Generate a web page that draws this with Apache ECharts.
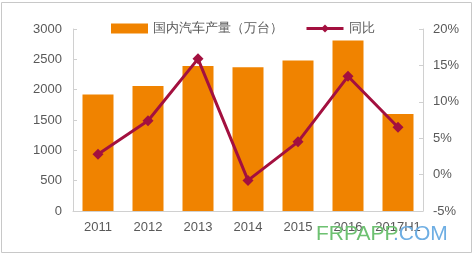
<!DOCTYPE html>
<html><head><meta charset="utf-8">
<script src="https://cdn.jsdelivr.net/npm/echarts@6/dist/echarts.min.js"></script>
<style>html,body{margin:0;padding:0;background:#fff}#c{width:475px;height:257px}</style>
</head><body><div id="c"></div>
<script>
var categories = ['2011','2012','2013','2014','2015','2016','2017H1'];
var production = [1920, 2060, 2390, 2370, 2480, 2810, 1600];
var yoy = [2.8, 7.4, 15.9, -0.8, 4.5, 13.5, 6.5];
var leftTicks = {min: 0, max: 3000, interval: 500};
var rightTicks = {min: -5, max: 20, interval: 5};

var chart = echarts.init(document.getElementById('c'));
var txt = {color: '#595959', fontSize: 13, fontFamily: 'Liberation Sans, Arial, sans-serif'};
chart.setOption({
  animation: false,
  graphic: [
    {type: 'rect', shape: {x: 1.5, y: 2.5, width: 470, height: 250}, style: {fill: 'none', stroke: '#c8c8c8', lineWidth: 1}, z: -1},
    {type: 'text', left: 316, top: 224, z: 100, style: {text: 'FRPAPP', fill: '#6dc171', font: '21px Liberation Sans, Arial, sans-serif'}},
    {type: 'text', left: 393, top: 224, z: 100, style: {text: '.COM', fill: '#6eaee3', font: '21px Liberation Sans, Arial, sans-serif'}}
  ],
  legend: {
    left: 106, top: 17, itemWidth: 37, itemHeight: 10, itemGap: 22,
    textStyle: txt,
    data: [
      {name: '国内汽车产量（万台）', icon: 'rect'},
      {name: '同比', itemStyle: {color: '#a3103f'}, lineStyle: {width: 3, color: '#a3103f'}}
    ]
  },
  grid: {left: 73, right: 52, top: 29, bottom: 46},
  xAxis: {
    type: 'category', data: categories,
    axisLine: {lineStyle: {color: '#d0d0d0'}},
    axisTick: {show: false},
    axisLabel: Object.assign({margin: 10, interval: 0}, txt)
  },
  yAxis: [
    {type: 'value', min: leftTicks.min, max: leftTicks.max, interval: leftTicks.interval,
     axisLine: {show: true, lineStyle: {color: '#d0d0d0'}},
     axisTick: {show: true, inside: true, length: 4, lineStyle: {color: '#d0d0d0'}},
     splitLine: {show: false},
     axisLabel: Object.assign({margin: 11, formatter: function (v) { return String(v); }}, txt)},
    {type: 'value', min: rightTicks.min, max: rightTicks.max, interval: rightTicks.interval,
     axisLine: {show: true, lineStyle: {color: '#d0d0d0'}},
     axisTick: {show: true, inside: true, length: 4, lineStyle: {color: '#d0d0d0'}},
     splitLine: {show: false},
     axisLabel: Object.assign({margin: 10, formatter: '{value}%'}, txt)}
  ],
  series: [
    {name: '国内汽车产量（万台）', type: 'bar', data: production, barWidth: '62%',
     itemStyle: {color: '#f08300'}},
    {name: '同比', type: 'line', yAxisIndex: 1, data: yoy,
     symbol: 'diamond', symbolSize: 11,
     lineStyle: {color: '#a3103f', width: 3},
     itemStyle: {color: '#a3103f'}}
  ]
});
</script></body></html>
